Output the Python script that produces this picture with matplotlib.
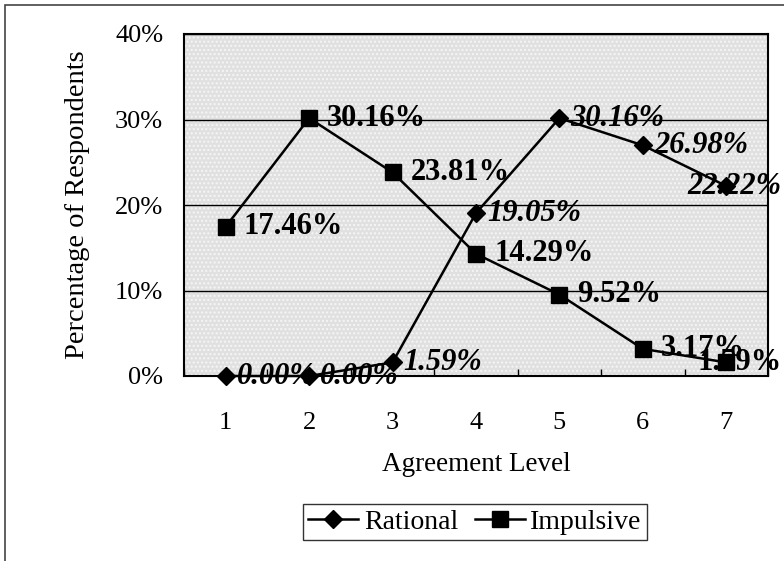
import matplotlib.pyplot as plt
from matplotlib.patches import Rectangle
from matplotlib.ticker import FixedLocator

levels = [1, 2, 3, 4, 5, 6, 7]
rational = [0.00, 0.00, 1.59, 19.05, 30.16, 26.98, 22.22]
impulsive = [17.46, 30.16, 23.81, 14.29, 9.52, 3.17, 1.59]
y_ticks = [0, 10, 20, 30, 40]

plt.rcParams["font.family"] = ["Liberation Serif", "DejaVu Serif"]

W, H = 784, 561
fig = plt.figure(figsize=(W / 100, H / 100), dpi=100)
ax = fig.add_axes([184 / W, 1 - 376 / H, (768 - 184) / W, (376 - 34) / H])

# outer chart frame (cropped on the right and bottom)
fig.patches.append(Rectangle((5 / W, -0.05), 1.1, (H - 5) / H + 0.05,
                             transform=fig.transFigure, fill=False,
                             edgecolor="#444444", linewidth=1.2))

ax.set_facecolor("#e0e0e0")
ax.add_patch(Rectangle((0, 0), 1, 1, transform=ax.transAxes,
                       facecolor="none", edgecolor="#f6f6f6",
                       hatch="....", linewidth=0, zorder=0))

ax.plot(levels, rational, color="black", linewidth=1.8, marker="D",
        markersize=9, label="Rational", zorder=3, clip_on=False)
ax.plot(levels, impulsive, color="black", linewidth=1.8, marker="s",
        markersize=11, label="Impulsive", zorder=3, clip_on=False)


def label_point(x, v, dx, **kw):
    # the last category's labels are pushed back so they end at the chart edge
    if x == levels[-1]:
        ax.annotate(f"{v:.2f}%", (x, v), xytext=(40, 0), textcoords="offset points",
                    ha="right", va="center", fontsize=22, fontweight="bold",
                    zorder=4, annotation_clip=False, **kw)
    else:
        ax.annotate(f"{v:.2f}%", (x, v), xytext=(dx, 0), textcoords="offset points",
                    ha="left", va="center", fontsize=22, fontweight="bold",
                    zorder=4, annotation_clip=False, **kw)


for x, v in zip(levels, impulsive):
    label_point(x, v, 13)
for x, v in zip(levels, rational):
    label_point(x, v, 8, style="italic")

ax.set_xlim(0.5, 7.5)
ax.set_ylim(0, 40)
ax.set_xticks(levels)
ax.set_xticklabels([str(l) for l in levels])
ax.xaxis.set_minor_locator(FixedLocator([i + 0.5 for i in range(0, 8)]))
ax.tick_params(axis="x", which="major", length=0, pad=26, labelsize=19)
ax.tick_params(axis="x", which="minor", length=5, direction="in", width=1)
ax.set_yticks(y_ticks)
ax.set_yticklabels([f"{t}%" for t in y_ticks])
ax.tick_params(axis="y", length=0, pad=15, labelsize=19)
ax.grid(axis="y", color="black", linewidth=1)
ax.set_axisbelow(True)
for s in ax.spines.values():
    s.set_linewidth(1.5)

ax.set_xlabel("Agreement Level", fontsize=19.5, labelpad=13)
ax.set_ylabel("Percentage of Respondents", fontsize=20.5, labelpad=18)

leg = fig.legend(loc="center", bbox_to_anchor=(475 / W, 1 - 522 / H), ncol=2,
                 fontsize=20, frameon=True, fancybox=False, edgecolor="black",
                 handlelength=1.8, handletextpad=0.2, columnspacing=0.6,
                 borderpad=0.2, borderaxespad=0)
leg.get_frame().set_linewidth(1)

fig.savefig("out.png", dpi=100)
